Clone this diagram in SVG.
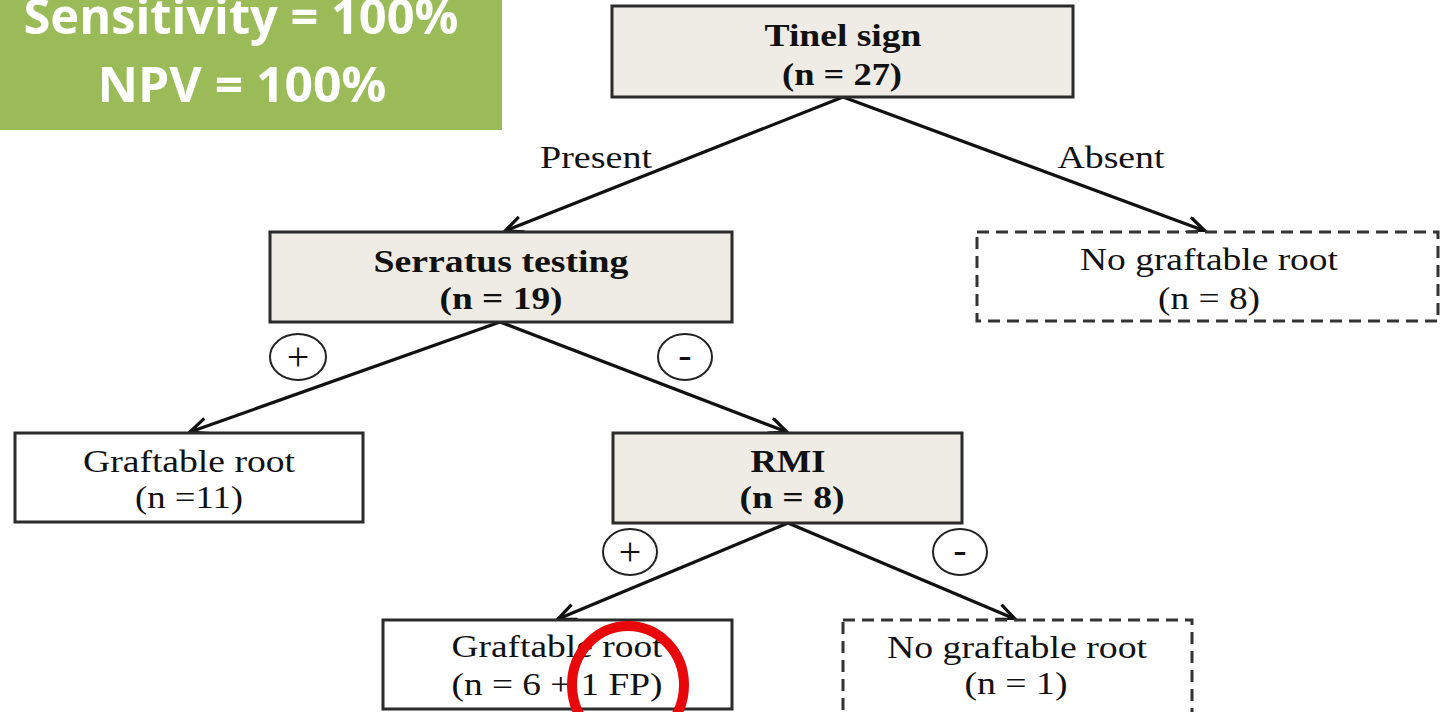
<svg xmlns="http://www.w3.org/2000/svg" width="1441" height="712" viewBox="0 0 1441 712">
<style>
.bx{stroke:#2b2b2b;stroke-width:3}
.gray{fill:#efece5}
.white{fill:#ffffff}
.dash{fill:#ffffff;stroke:#333;stroke-width:3;stroke-dasharray:12 7}
.b{font-family:"Liberation Serif","Times New Roman",serif;font-weight:bold;font-size:32px;fill:#111;text-anchor:middle}
.r{font-family:"Liberation Serif","Times New Roman",serif;font-size:32px;fill:#111;text-anchor:middle}
.s{font-family:"Liberation Serif","Times New Roman",serif;font-size:40px;fill:#111;text-anchor:middle}
.c{fill:#fff;stroke:#222;stroke-width:2}
.cn{stroke:#111;stroke-width:3.2;fill:none}
.g{font-family:"Open Sans","Liberation Sans",sans-serif;font-weight:bold;font-size:49px;fill:#fff;text-anchor:middle}
</style>
<defs>
<marker id="ah" markerUnits="userSpaceOnUse" markerWidth="24" markerHeight="22" refX="19" refY="9" orient="auto">
<path d="M1,1 L19,9 L1,17" fill="none" stroke="#111" stroke-width="3.2"/>
</marker>
</defs>
<rect width="1441" height="712" fill="#fff"/>
<g id="summary">
<rect x="0" y="0" width="502" height="130" fill="#9bbb59"/>
<text class="g" x="241" y="34" textLength="435" lengthAdjust="spacingAndGlyphs">Sensitivity = 100%</text>
<text class="g" x="242" y="102" textLength="289" lengthAdjust="spacingAndGlyphs">NPV = 100%</text>
</g>
<g id="connectors">
<line class="cn" x1="843" y1="97" x2="505" y2="231" marker-end="url(#ah)"/>
<line class="cn" x1="843" y1="97" x2="1205" y2="231" marker-end="url(#ah)"/>
<line class="cn" x1="500" y1="322" x2="190" y2="432" marker-end="url(#ah)"/>
<line class="cn" x1="500" y1="322" x2="787" y2="432" marker-end="url(#ah)"/>
<line class="cn" x1="788" y1="523" x2="558" y2="619" marker-end="url(#ah)"/>
<line class="cn" x1="788" y1="523" x2="1015" y2="619" marker-end="url(#ah)"/>
<text class="r" x="596" y="168" textLength="112" lengthAdjust="spacingAndGlyphs">Present</text>
<text class="r" x="1111" y="168" textLength="107" lengthAdjust="spacingAndGlyphs">Absent</text>
<ellipse class="c" cx="298" cy="357" rx="28" ry="23"/>
<text class="s" x="298" y="370">+</text>
<ellipse class="c" cx="685" cy="357" rx="27" ry="23"/>
<text class="s" x="685" y="368">-</text>
<ellipse class="c" cx="630" cy="552" rx="27" ry="23"/>
<text class="s" x="630" y="565">+</text>
<ellipse class="c" cx="960" cy="552" rx="27" ry="23"/>
<text class="s" x="960" y="563">-</text>
</g>
<g id="tinel">
<rect class="bx gray" x="612" y="6" width="461" height="91"/>
<text class="b" x="843" y="46" textLength="157" lengthAdjust="spacingAndGlyphs">Tinel sign</text>
<text class="b" x="842" y="85" textLength="120" lengthAdjust="spacingAndGlyphs">(n = 27)</text>
</g>
<g id="serratus">
<rect class="bx gray" x="270" y="232" width="462" height="90"/>
<text class="b" x="501" y="272" textLength="255" lengthAdjust="spacingAndGlyphs">Serratus testing</text>
<text class="b" x="501" y="309" textLength="123" lengthAdjust="spacingAndGlyphs">(n = 19)</text>
</g>
<g id="nograft8">
<rect class="dash" x="977" y="232" width="461" height="89"/>
<text class="r" x="1209" y="270" textLength="258" lengthAdjust="spacingAndGlyphs">No graftable root</text>
<text class="r" x="1209" y="309" textLength="102" lengthAdjust="spacingAndGlyphs">(n = 8)</text>
</g>
<g id="graft11">
<rect class="bx white" x="15" y="433" width="348" height="89"/>
<text class="r" x="189" y="472" textLength="212" lengthAdjust="spacingAndGlyphs">Graftable root</text>
<text class="r" x="189" y="508" textLength="108" lengthAdjust="spacingAndGlyphs">(n =11)</text>
</g>
<g id="rmi">
<rect class="bx gray" x="613" y="433" width="349" height="90"/>
<text class="b" x="788" y="472" textLength="75" lengthAdjust="spacingAndGlyphs">RMI</text>
<text class="b" x="792" y="508" textLength="105" lengthAdjust="spacingAndGlyphs">(n = 8)</text>
</g>
<g id="graft6">
<rect class="bx white" x="383" y="620" width="349" height="89"/>
<text class="r" x="557" y="657" textLength="211" lengthAdjust="spacingAndGlyphs">Graftable root</text>
<text class="r" x="557" y="695" textLength="211" lengthAdjust="spacingAndGlyphs">(n = 6 + 1 FP)</text>
</g>
<g id="nograft1">
<rect class="dash" x="843" y="620" width="349" height="95"/>
<text class="r" x="1017" y="658" textLength="260" lengthAdjust="spacingAndGlyphs">No graftable root</text>
<text class="r" x="1016" y="694" textLength="103" lengthAdjust="spacingAndGlyphs">(n = 1)</text>
</g>
<g id="highlight">
<ellipse cx="628" cy="685" rx="56" ry="59" fill="none" stroke="#e8070a" stroke-width="10"/>
</g>
</svg>
